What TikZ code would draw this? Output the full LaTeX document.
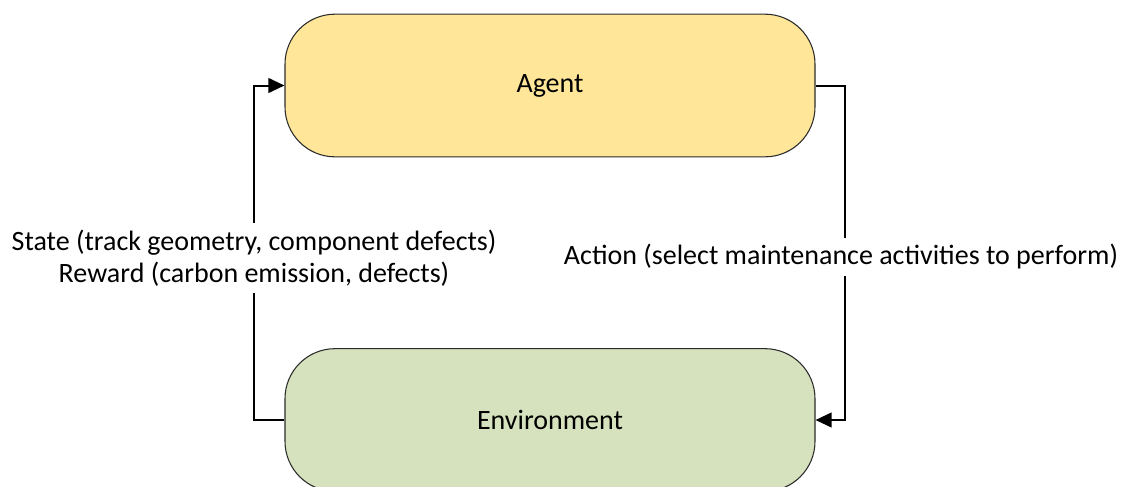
\documentclass[tikz,border=0pt]{standalone}
\usepackage{fontspec}
\setmainfont{Carlito}
\usetikzlibrary{arrows.meta}
\definecolor{agentfill}{HTML}{FFE699}
\definecolor{envfill}{HTML}{D6E2BD}
\definecolor{boxline}{HTML}{2B2B2B}
\tikzset{
  px/.style={x=0.75pt,y=-0.75pt},
  blockbox/.style={draw=boxline,line width=0.8pt,rounded corners=37.5pt,
    minimum width=397.5pt,minimum height=107pt,inner sep=0pt,
    font=\fontsize{21}{24}\selectfont},
  flow/.style={draw=black,line width=1.5pt,-{Triangle[length=12pt,width=11pt]}},
  flowlabel/.style={fill=white,inner xsep=2pt,inner ysep=5pt,align=center,
    font=\fontsize{21}{24}\selectfont},
}
\begin{document}
\begin{tikzpicture}[px]
\useasboundingbox (0,0) rectangle (1129,486);
\begin{scope}
\clip (0,0) rectangle (1129,486);
\node[blockbox,fill=agentfill] (agent) at (550,85.5) {Agent};
\node[blockbox,fill=envfill] (env) at (550,420) {Environment};
\draw[flow] (env.west) -- ++(-30,0) coordinate (lc) |- (agent.west);
\draw[flow] (agent.east) -- ++(29,0) coordinate (rc) |- (env.east);
\node[flowlabel] (state) at (254,258) {State (track geometry, component defects)\\Reward (carbon emission, defects)};
\node[flowlabel] (action) at (841,257) {Action (select maintenance activities to perform)};
\end{scope}
\end{tikzpicture}
\end{document}
